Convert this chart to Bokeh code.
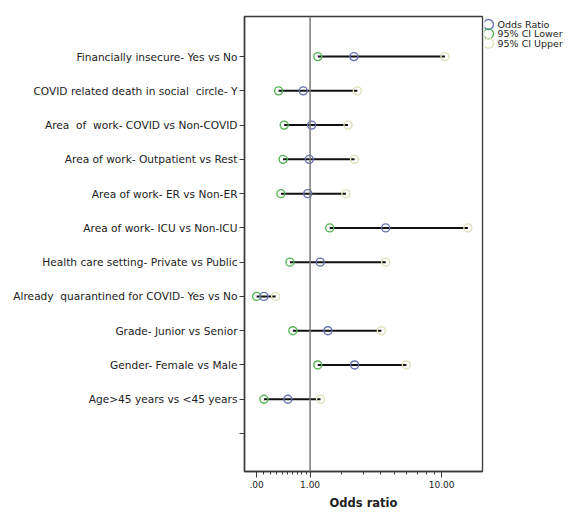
import numpy as np
from bokeh.plotting import figure
from bokeh.layouts import row
from bokeh.models import (Range1d, FixedTicker, CustomJSTickFormatter,
                          ColumnDataSource, Span)
from bokeh.core.properties import value
from bokeh.embed import file_html
from bokeh.resources import INLINE

NB = "\u00a0"
# ---- data ----
factors = [
    "Financially insecure- Yes vs No",
    "COVID related death in social" + NB + " circle- Y",
    "Area" + NB + " of" + NB + " work- COVID vs Non-COVID",
    "Area of work- Outpatient vs Rest",
    "Area of work- ER vs Non-ER",
    "Area of work- ICU vs Non-ICU",
    "Health care setting- Private vs Public",
    "Already" + NB + " quarantined for COVID- Yes vs No",
    "Grade- Junior vs Senior",
    "Gender- Female vs Male",
    "Age>45 years vs <45 years",
    "",
]
odds_ratio = [2.53, 0.83, 1.04, 0.98, 0.94, 4.33, 1.28, 0.10, 1.52, 2.56, 0.50]
ci_lower = [1.21, 0.33, 0.43, 0.41, 0.37, 1.58, 0.54, 0.00, 0.60, 1.21, 0.10]
ci_upper = [10.49, 2.69, 2.27, 2.56, 2.18, 14.48, 4.33, 0.28, 4.04, 5.97, 1.29]
x_major_ticks = [0, 1, 10]
x_minor_ticks = [0.1, 0.2, 0.3, 0.4, 0.5, 0.6, 0.7, 0.8, 0.9, 2, 3, 4, 5, 6, 7, 8, 9]
reference_value = 1
x_limits = (-0.17, 17.7)
legend_labels = ["Odds Ratio", "95% CI Lower", "95% CI Upper"]
legend_colors = ["#6670b0", "#55b455", "#e0e0bc"]

FONT = "DejaVu Sans"
H = 512


def safe_log(v):
    v = np.asarray(v, dtype=float)
    return np.sign(v) * np.log10(1 + np.abs(v))


n = len(factors)
ypos = [n - i for i in range(n)]
m = len(odds_ratio)
src = ColumnDataSource(dict(
    y=ypos[:m],
    orx=safe_log(odds_ratio),
    lo=safe_log(ci_lower),
    hi=safe_log(ci_upper),
))

p = figure(width=484, height=H, output_backend="svg", toolbar_location=None,
           x_range=Range1d(*safe_log(x_limits)),
           y_range=Range1d(-0.11, n + 1.17),
           min_border_left=244, min_border_right=2,
           min_border_top=16, min_border_bottom=41)
p.background_fill_color = "white"
p.border_fill_color = "white"
p.outline_line_color = "#3a3a3a"
p.outline_line_width = 1.3
p.xgrid.visible = False
p.ygrid.visible = False

p.add_layout(Span(location=float(safe_log(reference_value)), dimension="height",
                  line_color="#7a7a7a", line_width=1.5))

p.segment(x0="lo", y0="y", x1="hi", y1="y", source=src,
          line_color="#111111", line_width=2)
p.scatter(x="lo", y="y", source=src, marker="circle", size=8,
          fill_color=None, line_color=legend_colors[1], line_width=1.4)
p.scatter(x="hi", y="y", source=src, marker="circle", size=8,
          fill_color=None, line_color=legend_colors[2], line_width=1.4)
p.scatter(x="orx", y="y", source=src, marker="circle", size=8,
          fill_color=None, line_color=legend_colors[0], line_width=1.4)

# x axis (SPSS "safe log" scale)
xa = p.xaxis[0]
xa.ticker = FixedTicker(ticks=list(safe_log(x_major_ticks)),
                        minor_ticks=list(safe_log(x_minor_ticks)))
xa.formatter = CustomJSTickFormatter(code="""
    const v = Math.sign(tick) * (Math.pow(10, Math.abs(tick)) - 1);
    return v.toFixed(2).replace(/^0\\./, '.');
""")
xa.axis_label = "Odds ratio"
xa.axis_label_text_font = FONT
xa.axis_label_text_font_style = "bold"
xa.axis_label_text_font_size = "11.5px"
xa.axis_label_text_color = "#222222"
xa.axis_label_standoff = 5
xa.major_label_text_font = FONT
xa.major_label_text_font_size = "9px"
xa.major_label_text_color = "#222222"
xa.major_label_standoff = 3
xa.major_tick_out = 6
xa.major_tick_in = 0
xa.minor_tick_out = 3
xa.minor_tick_in = 0
xa.axis_line_color = "#3a3a3a"
xa.axis_line_width = 1.5
xa.major_tick_line_color = "#3a3a3a"
xa.minor_tick_line_color = "#3a3a3a"

# y axis
ya = p.yaxis[0]
ya.ticker = FixedTicker(ticks=ypos)
ya.major_label_overrides = {y: f for y, f in zip(ypos, factors)}
ya.minor_tick_line_color = None
ya.major_label_text_font = FONT
ya.major_label_text_font_size = "10.6px"
ya.major_label_text_color = "#222222"
ya.major_label_standoff = 2
ya.major_tick_out = 5
ya.major_tick_in = 0
ya.axis_line_color = "#3a3a3a"
ya.axis_line_width = 1.5
ya.major_tick_line_color = "#3a3a3a"

# legend panel (separate narrow figure, pixel coordinates)
LW = 84
leg = figure(width=LW, height=H, output_backend="svg", toolbar_location=None,
             x_range=Range1d(0, LW), y_range=Range1d(H, 0),
             x_axis_location=None, y_axis_location=None,
             min_border=0)
leg.outline_line_color = None
leg.xgrid.visible = False
leg.ygrid.visible = False
leg_src = ColumnDataSource(dict(
    x=[4] * len(legend_labels),
    tx=[13] * len(legend_labels),
    y=[9 + 10.5 * i for i in range(len(legend_labels))],
    label=legend_labels,
    color=legend_colors,
))
leg.scatter(x="x", y="y", source=leg_src, marker="circle", size=10,
            fill_color=None, line_color="color", line_width=1.3)
leg.text(x="tx", y="y", text="label", source=leg_src,
         text_font=value(FONT), text_font_size="9.5px",
         text_baseline="middle", text_align="left", text_color="#222222")

layout = row(p, leg, spacing=0)
open("out.html", "w").write(file_html(layout, INLINE))
